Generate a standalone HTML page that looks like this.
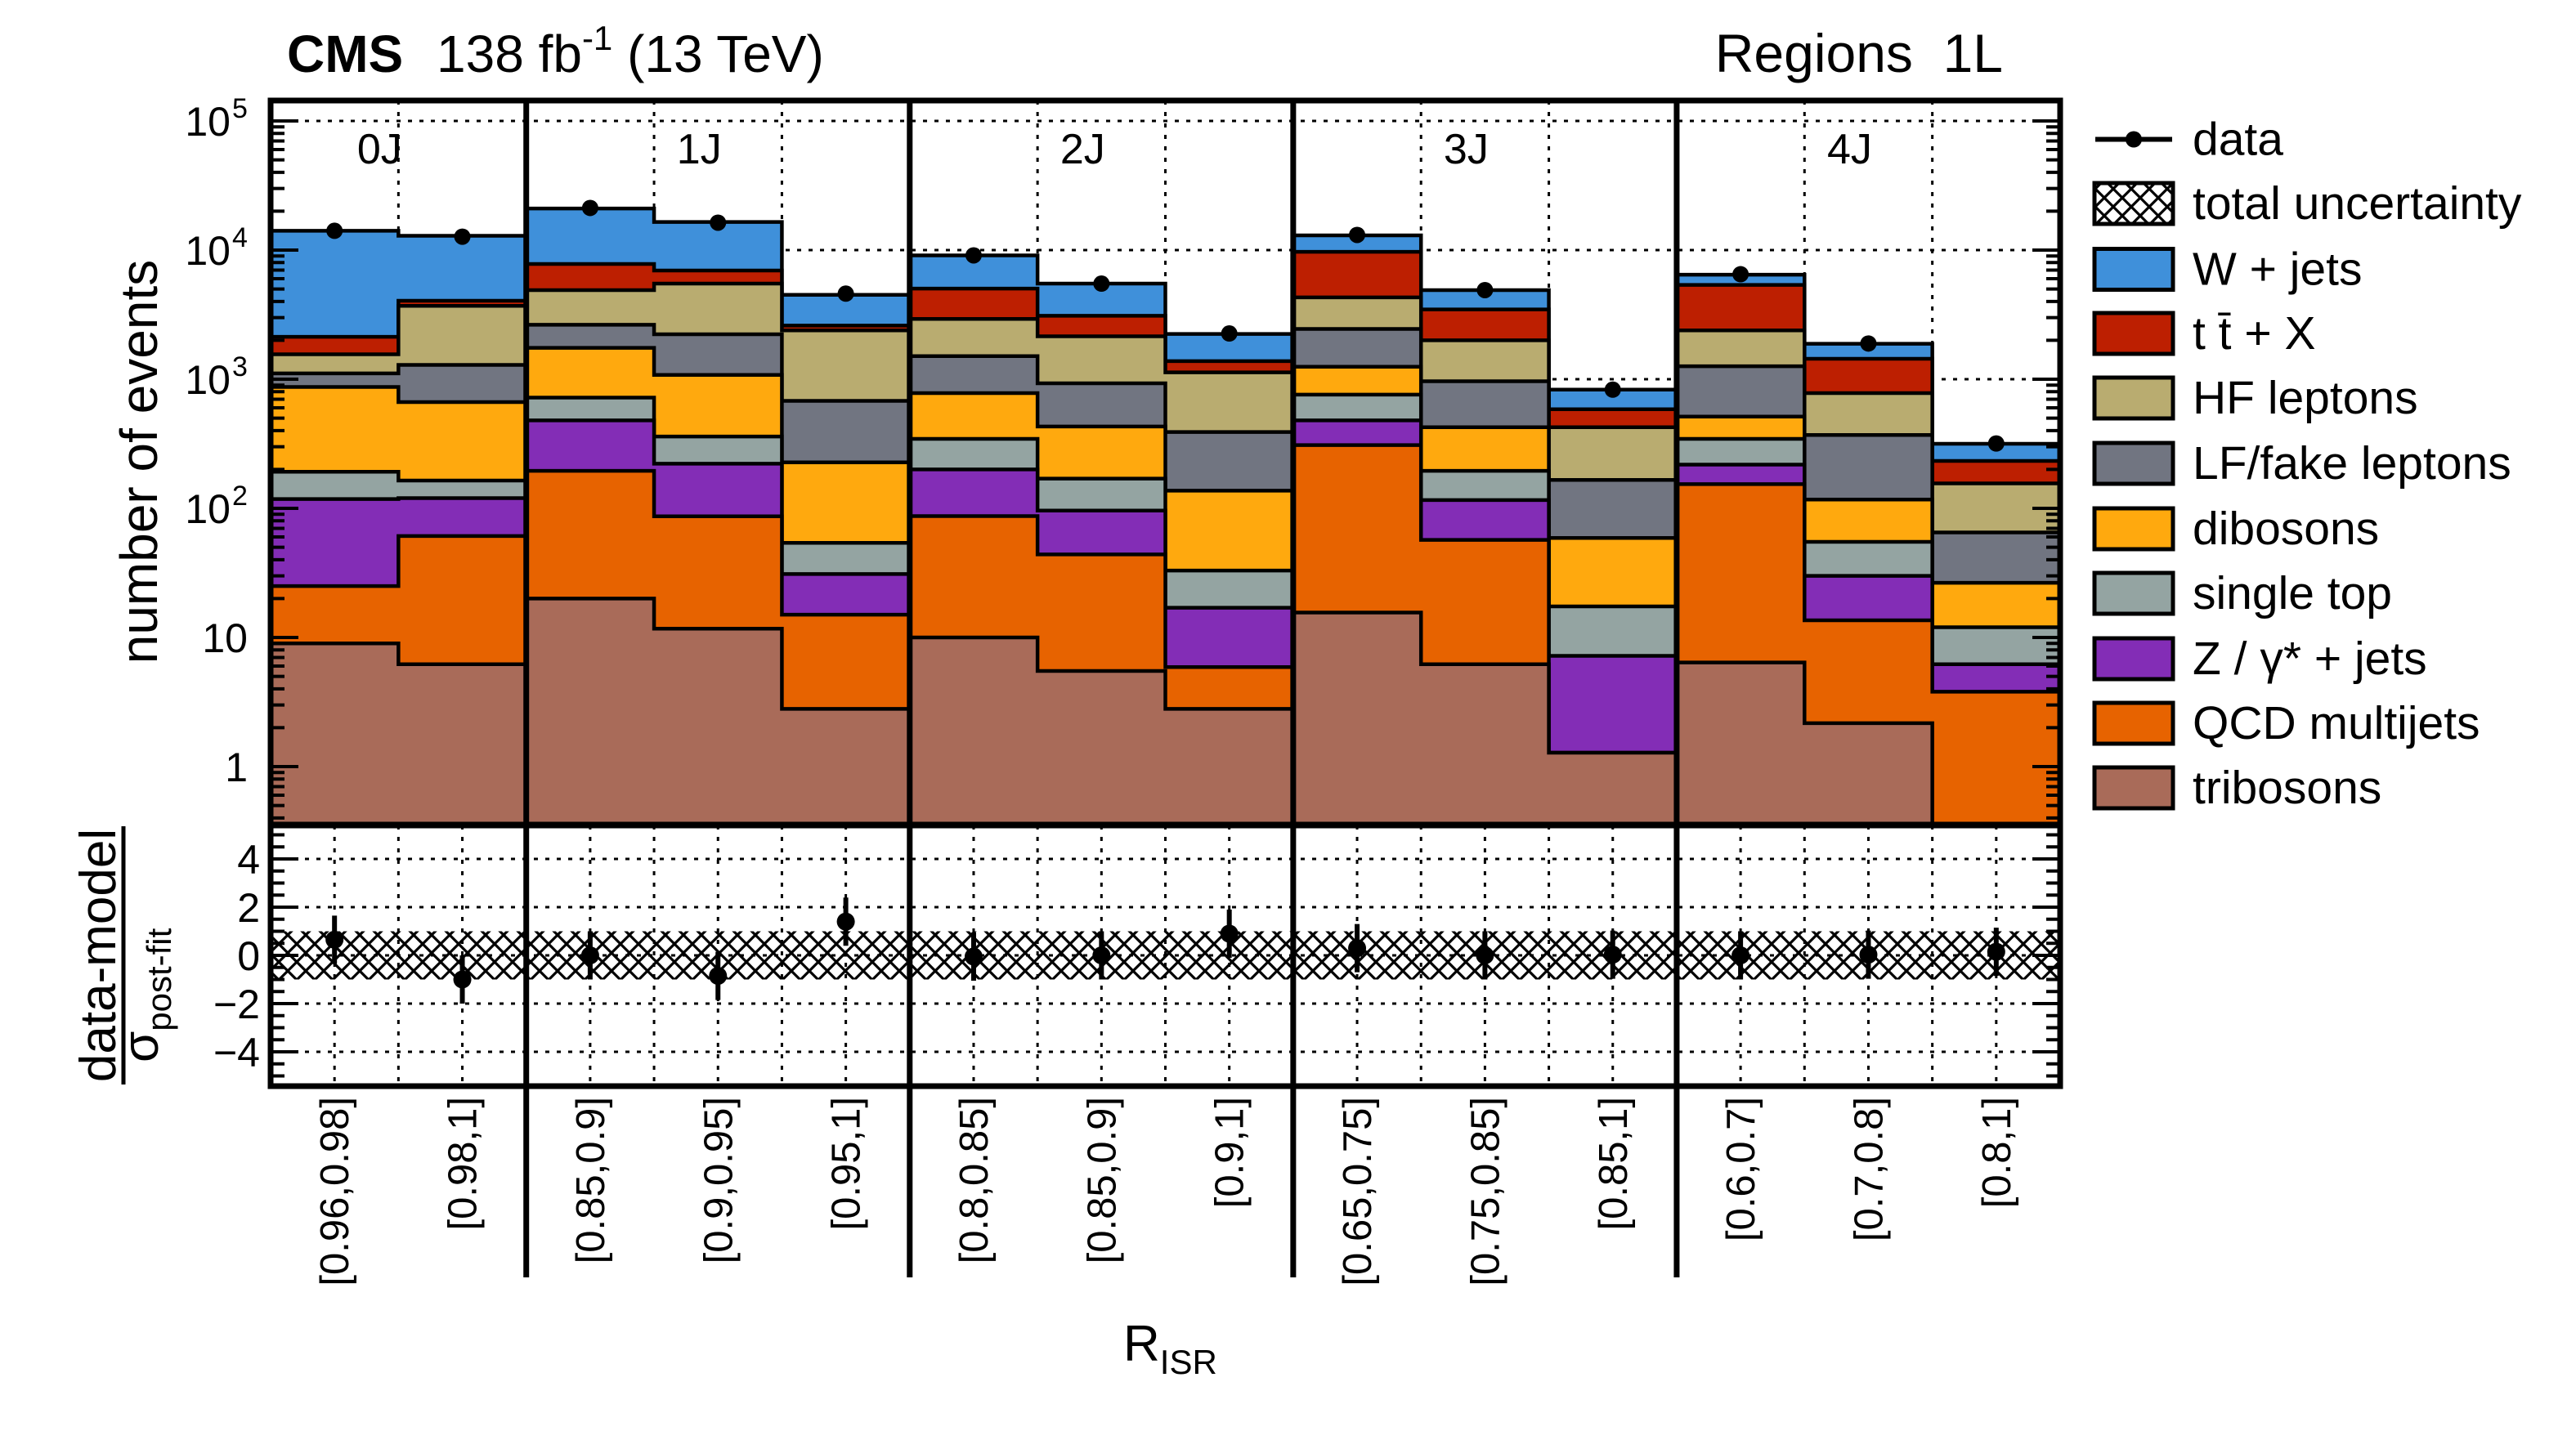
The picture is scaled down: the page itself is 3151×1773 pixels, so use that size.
<!DOCTYPE html>
<html><head><meta charset="utf-8">
<style>
html,body{margin:0;padding:0;background:#fff;}
svg{display:block;font-family:"Liberation Sans",Arial,sans-serif;}
</style></head>
<body>
<svg id="chart" width="3151" height="1773" viewBox="0 0 3151 1773" xmlns="http://www.w3.org/2000/svg">
<defs>
<pattern id="hatch" patternUnits="userSpaceOnUse" width="22" height="22">
<path d="M0,0 L22,22 M22,0 L0,22" stroke="#000" stroke-width="3.2" fill="none"/>
</pattern>
<clipPath id="upclip"><rect x="331" y="123" width="2189" height="886"/></clipPath>
</defs>
<g id="grid"></g>
<g id="stack" clip-path="url(#upclip)"></g>
<g id="ratio"></g>
<g id="axes"></g>
<g id="labels"></g>

<text x="351" y="88" font-size="64" font-weight="bold">CMS</text>
<text x="534" y="88" font-size="64">138 fb<tspan font-size="42" dy="-27">-1</tspan><tspan dy="27"> (13 TeV)</tspan></text>
<text x="2450" y="88" font-size="66" text-anchor="end" xml:space="preserve">Regions  1L</text>

<text transform="translate(192,565) rotate(-90)" font-size="64" text-anchor="middle">number of events</text>
<g transform="translate(151,1169) rotate(-90)">
<text x="0" y="-10" font-size="62" text-anchor="middle">data-model</text>
<line x1="-158" y1="0" x2="158" y2="0" stroke="#000" stroke-width="5"/>
<text x="-131" y="42" font-size="62">σ<tspan font-size="42" dy="16">post-fit</tspan></text>
</g>
<text x="1374" y="1665" font-size="62">R<tspan font-size="42" dy="16">ISR</tspan></text>

<g id="legend"></g>
</svg>
<script>
// ---- data ----
const binLabels = ["[0.96,0.98]","[0.98,1]","[0.85,0.9]","[0.9,0.95]","[0.95,1]","[0.8,0.85]","[0.85,0.9]","[0.9,1]","[0.65,0.75]","[0.75,0.85]","[0.85,1]","[0.6,0.7]","[0.7,0.8]","[0.8,1]"];
const sectionLabels = ["0J","1J","2J","3J","4J"];
const sectionBins = [2,3,3,3,3];
const processNames = ["tribosons","QCD multijets","Z / γ* + jets","single top","dibosons","LF/fake leptons","HF leptons","t t̄ + X","W + jets"];
const tribosons = [9,6.2,20,11.7,2.8,10,5.5,2.8,15.6,6.2,1.28,6.4,2.17,0];
const qcd = [16,54.8,175,75,12.2,77,38.5,3.1,293,50.8,0,147.6,11.4,3.8];
const zjets = [93,59,285,135,16,113,52,11.1,171,59,5.92,64,16.4,2.4];
const singleTop = [74,44,240,138,23,145,74,16,280,79,10.2,127,25,5.8];
const dibosons = [678,501,1030,720,173,435,260,104,490,230,41.6,168,62,14.5];
const lfFake = [240,625,890,1150,453,730,500,253,1200,540,107,747,253,38.5];
const hfLeptons = [450,2410,2260,3270,1710,1420,1220,740,1850,1035,259,1130,410,91];
const ttx = [570,350,2900,1450,210,2100,950,250,5400,1470,160,2980,660,77];
const wjets = [11970,8850,13200,9550,1900,4070,2400,860,3300,1430,245,1080,440,83];
const dataCounts = [14100,12700,21200,16300,4600,9100,5500,2260,13100,4900,830,6500,1890,318];
const pulls = [0.65,-1.0,0.0,-0.85,1.4,-0.05,0.0,0.9,0.3,0.0,0.03,0.0,0.03,0.15];
const pullErrs = [1.0,1.0,1.0,1.0,1.0,1.0,1.0,1.0,1.0,1.0,1.0,1.0,1.0,1.0];
const bandHalf = [1.0,1.0,1.0,1.0,1.0,1.0,1.0,1.0,1.0,1.0,1.0,1.0,1.0,1.0];
const yTicks = [1,10,100,1000,10000,100000];
const ratioTicks = [4,2,0,-2,-4];

const colors = ["#a96b59","#e76300","#832db6","#94a4a2","#ffa90e","#717581","#b9ac70","#bd1f01","#3f90da"];
const series = [tribosons,qcd,zjets,singleTop,dibosons,lfFake,hfLeptons,ttx,wjets];

// ---- geometry ----
const X0=331, X1=2520, YT=123, YB=1009, RT=1010, RB=1329;
const nb = binLabels.length, bw=(X1-X0)/nb;
const xEdge = i => X0 + i*bw;
const yLog = v => { if(v<=0) return YB+50; return 938 - 158*Math.log10(v); };
const yR = v => 1169 - 29.5*v;
const NS="http://www.w3.org/2000/svg";
function mk(tag, attrs, parent){ const e=document.createElementNS(NS,tag); for(const k in attrs) e.setAttribute(k,attrs[k]); parent.appendChild(e); return e; }
const grid=document.getElementById('grid'), stack=document.getElementById('stack'), ratio=document.getElementById('ratio'), axes=document.getElementById('axes'), labels=document.getElementById('labels'), legend=document.getElementById('legend');

const secEdges=[0]; sectionBins.forEach(n=>secEdges.push(secEdges[secEdges.length-1]+n));

// upper grid
yTicks.forEach(v=>{ const l=mk('line',{x1:X0,x2:X1,y1:yLog(v),y2:yLog(v),stroke:'#000','stroke-width':3,'stroke-dasharray':'5 9'},grid);
  });
for(let i=1;i<nb;i++){ if(secEdges.includes(i)) continue;
 const l=mk('line',{x1:xEdge(i),x2:xEdge(i),y1:YT,y2:YB,stroke:'#000','stroke-width':3,'stroke-dasharray':'5 9'},grid);
   }

// stack
const cum=[]; let run=new Array(nb).fill(0);
series.forEach(s=>{ run=run.map((r,i)=>r+s[i]); cum.push(run.slice()); });
for(let p=series.length-1;p>=0;p--){
 let d=`M${X0},${YB+60}`;
 for(let i=0;i<nb;i++){ const y=Math.min(yLog(cum[p][i]),YB+60); d+=` L${xEdge(i)},${y} L${xEdge(i+1)},${y}`; }
 d+=` L${X1},${YB+60} Z`;
 const path=mk('path',{d:d,fill:colors[p],stroke:'#000','stroke-width':4.5,'stroke-linejoin':'miter'},stack);
 
 
}
dataCounts.forEach((v,i)=>{ const cx=xEdge(i)+bw/2, err=Math.sqrt(v);
 const el=mk('line',{x1:cx,x2:cx,y1:yLog(v+err),y2:yLog(Math.max(v-err,0.01)),stroke:'#000','stroke-width':3},stack);
  
 const c=mk('circle',{cx:cx,cy:yLog(v),r:10,fill:'#000'},stack);
  
});

// ratio panel
const band=mk('rect',{x:X0,y:yR(bandHalf[0]),width:X1-X0,height:yR(-bandHalf[0])-yR(bandHalf[0]),fill:'url(#hatch)'},ratio);
 
ratioTicks.forEach(v=>{ const l=mk('line',{x1:X0,x2:X1,y1:yR(v),y2:yR(v),stroke:'#000','stroke-width':3,'stroke-dasharray':'5 9'},ratio);
   });
for(let k=1;k<2*nb;k++){ if(k%2===0 && secEdges.includes(k/2)) continue; const x=X0+k*bw/2;
 const l=mk('line',{x1:x,x2:x,y1:RT,y2:RB,stroke:'#000','stroke-width':3,'stroke-dasharray':'5 9'},ratio);
   }
pulls.forEach((v,i)=>{ const cx=xEdge(i)+bw/2;
 const l=mk('line',{x1:cx,x2:cx,y1:yR(v+pullErrs[i]),y2:yR(v-pullErrs[i]),stroke:'#000','stroke-width':6},ratio);
  
 const c=mk('circle',{cx:cx,cy:yR(v),r:11,fill:'#000'},ratio);
  
});

// frames & ticks
[[YT,YB],[RT,RB]].forEach(([a,b],k)=>{ const r=mk('rect',{x:X0,y:a,width:X1-X0,height:b-a,fill:'none',stroke:'#000','stroke-width':7},axes);
   });
for(let e=-1;e<=5;e++){ for(let m=1;m<10;m++){ const v=m*Math.pow(10,e); const y=yLog(v); if(y<YT||y>YB) continue; const L=m===1?34:17;
 [[X0,X0+L],[X1,X1-L]].forEach(([a,b])=>{ const t=mk('line',{x1:a,x2:b,y1:y,y2:y,stroke:'#000','stroke-width':4},axes);
   }); } }
for(let v=-5;v<=5.01;v+=0.5){ const y=yR(v); const L=(Math.abs(v%2)<0.01)?34:17;
 [[X0,X0+L],[X1,X1-L]].forEach(([a,b])=>{ const t=mk('line',{x1:a,x2:b,y1:y,y2:y,stroke:'#000','stroke-width':4},axes);
   }); }
secEdges.slice(1,-1).forEach(i=>{ const l=mk('line',{x1:xEdge(i),x2:xEdge(i),y1:YT,y2:1563,stroke:'#000','stroke-width':7},axes);
   });

// y tick labels
const supers=["","","2","3","4","5"];
yTicks.forEach((v,k)=>{ const y=yLog(v)+18;
 const t=mk('text',{x:k<2?303:282,y:y,'font-size':50,'text-anchor':'end'},labels);
 t.textContent = k===0?"1":"10";
  
 if(k>=2){ const s=mk('text',{x:284,y:y-22,'font-size':34},labels); s.textContent=supers[k];
   }
});
ratioTicks.forEach(v=>{ const t=mk('text',{x:318,y:yR(v)+18,'font-size':50,'text-anchor':'end'},labels);
 t.textContent = v<0?'−'+(-v):String(v);
   });
binLabels.forEach((s,i)=>{ const cx=xEdge(i)+bw/2+17;
 const t=mk('text',{transform:`translate(${cx},1342) rotate(-90)`,'font-size':49,'text-anchor':'end'},labels);
 t.textContent=s;   });
sectionLabels.forEach((s,k)=>{ const cx=(xEdge(secEdges[k])+xEdge(secEdges[k+1]))/2-23;
 const t=mk('text',{x:cx,y:200,'font-size':52,'text-anchor':'middle'},labels);
 t.textContent=s;   });

// legend
const legY=[170.5,249,329.5,408,487,567,647,726,806,885,964];
const legText=["data","total uncertainty","W + jets","t t̄ + X","HF leptons","LF/fake leptons","dibosons","single top","Z / γ* + jets","QCD multijets","tribosons"];
const legFill=[null,'url(#hatch)',colors[8],colors[7],colors[6],colors[5],colors[4],colors[3],colors[2],colors[1],colors[0]];
legText.forEach((s,k)=>{ const y=legY[k];
 if(k===0){ const l=mk('line',{x1:2563,x2:2657,y1:y,y2:y,stroke:'#000','stroke-width':6},legend);
   
  const c=mk('circle',{cx:2610,cy:y,r:10,fill:'#000'},legend);
    }
 else { const r=mk('rect',{x:2562,y:y-25,width:96,height:50,fill:legFill[k],stroke:'#000','stroke-width':5},legend);
    }
 const t=mk('text',{x:2682,y:y+19,'font-size':57},legend);
 t.textContent=s;  
});
</script>
</body></html>
